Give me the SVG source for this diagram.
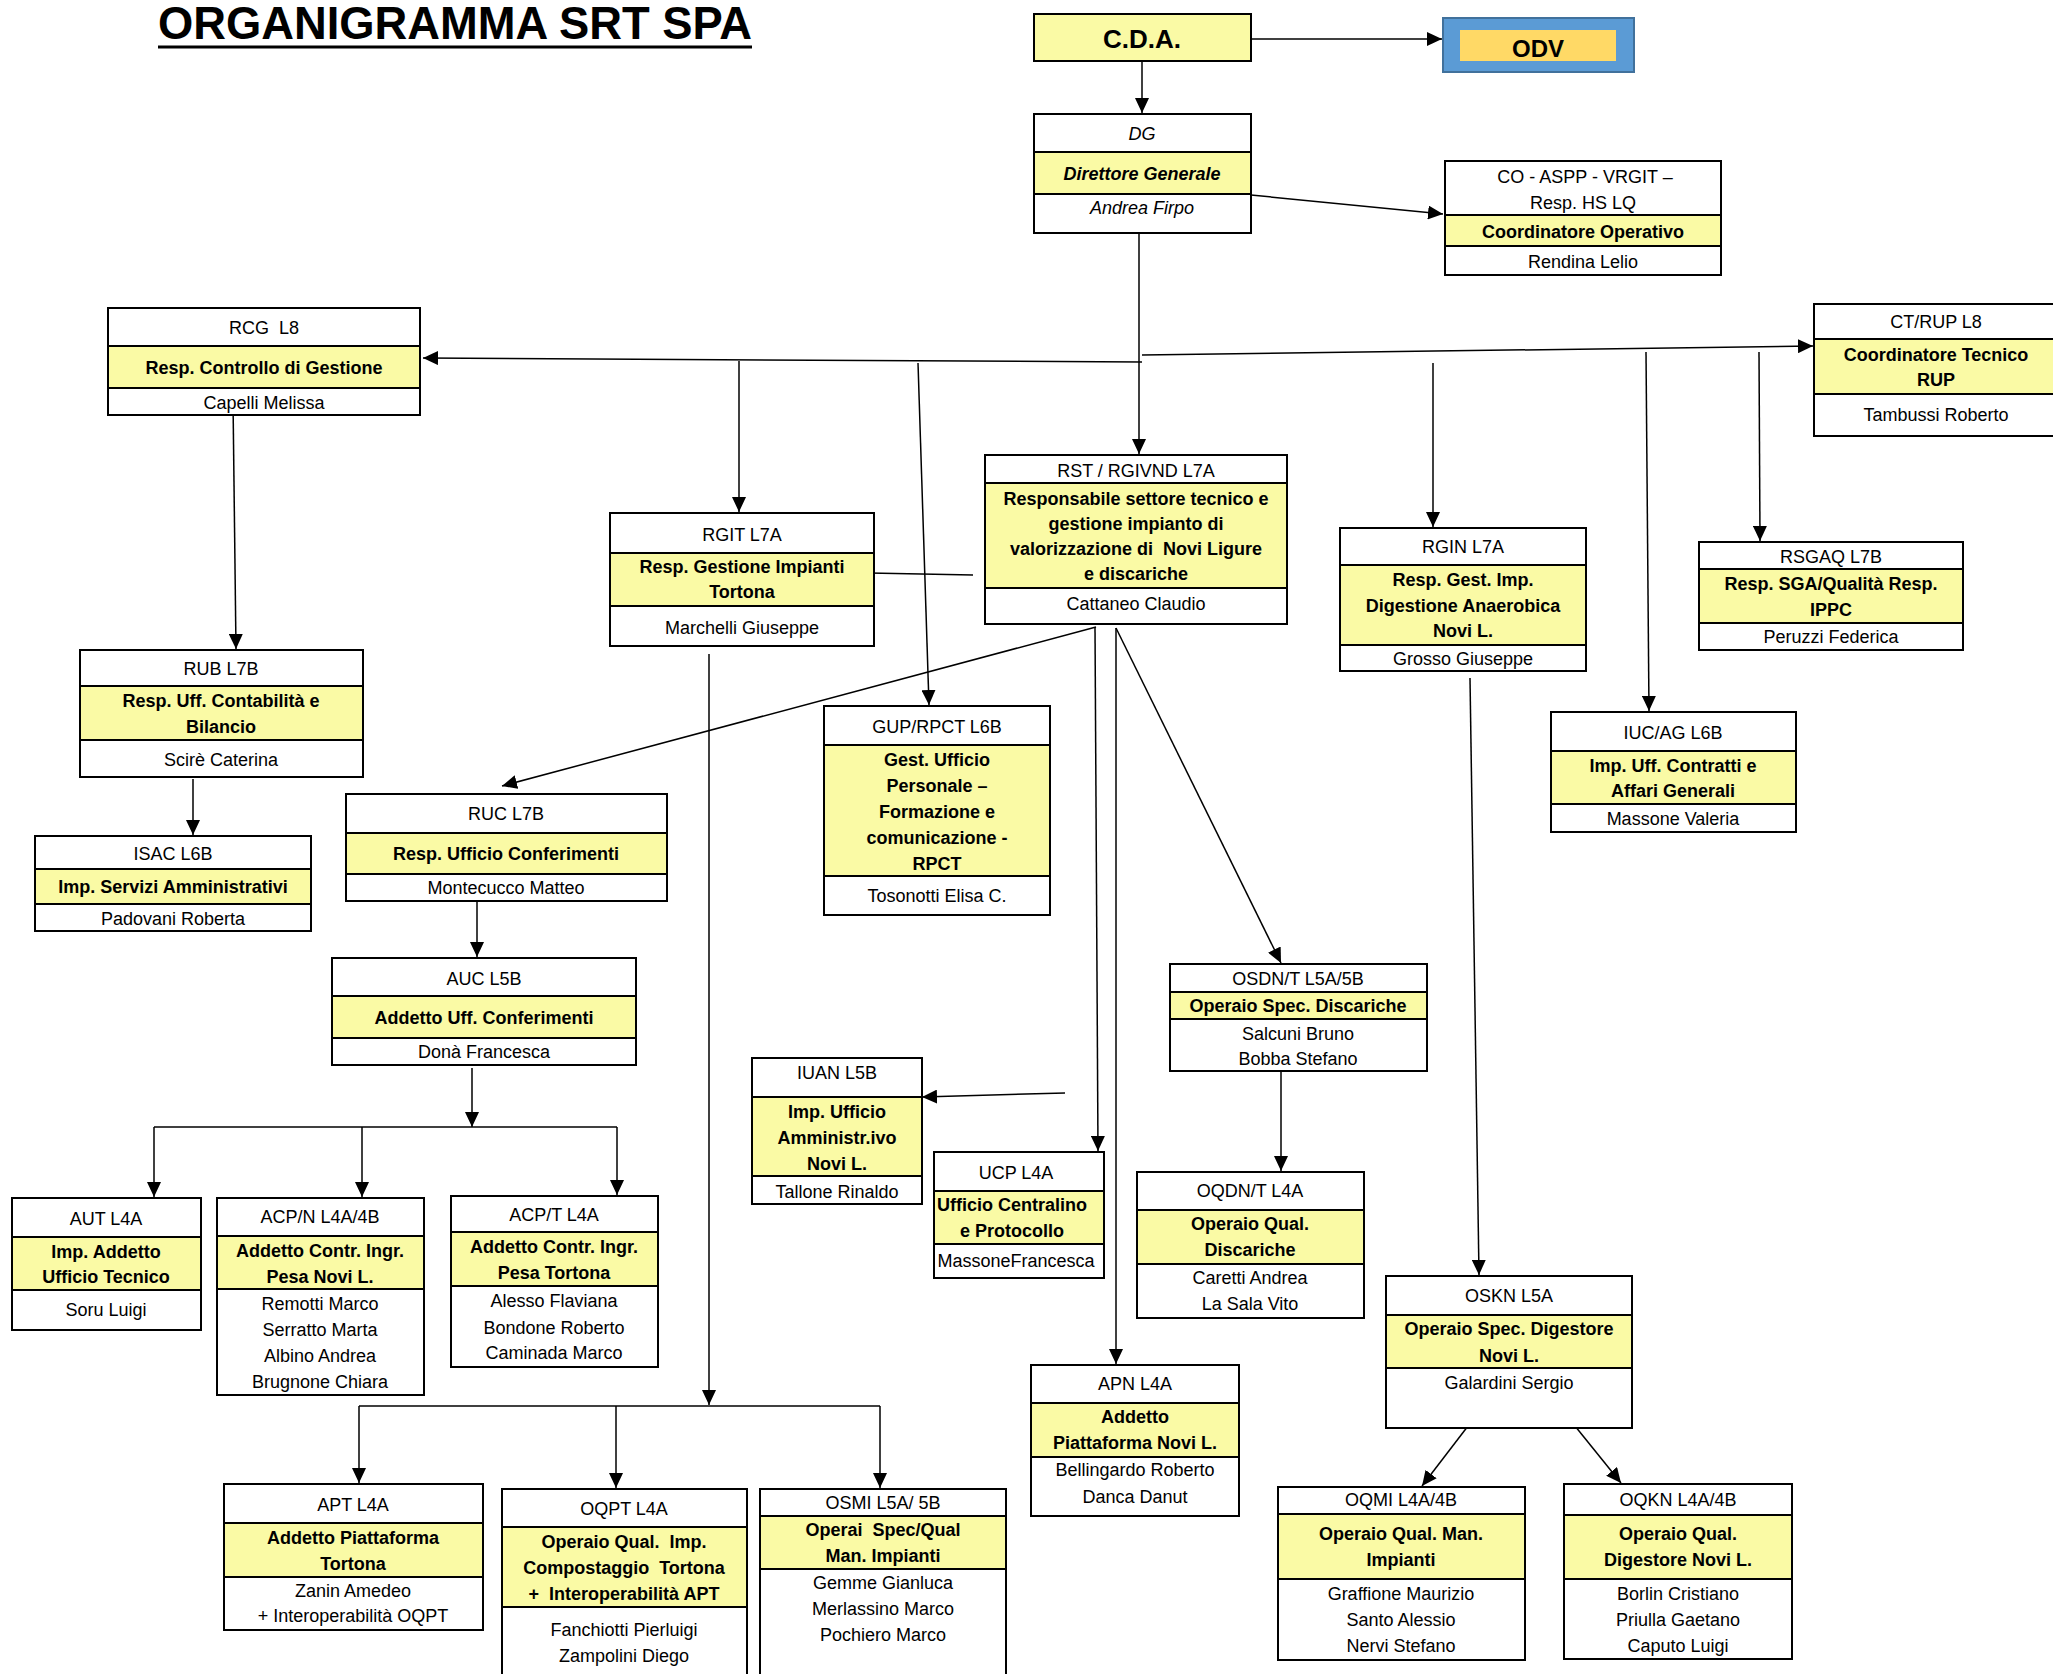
<svg xmlns="http://www.w3.org/2000/svg" width="2053" height="1674" viewBox="0 0 2053 1674">
<style>
text{font-family:"Liberation Sans",Arial,sans-serif;font-size:18px;fill:#000;text-anchor:middle;white-space:pre}
.b{font-weight:bold}
.i{font-style:italic}
.w{fill:#fff;stroke:#000;stroke-width:2}
.y{fill:#FAFAA5;stroke:#000;stroke-width:2}
.c{stroke:#000;stroke-width:1.5;fill:none}
.a{marker-end:url(#ah)}
.ttl{font-size:46px;font-weight:bold;text-anchor:start}
.big{font-size:26px;font-weight:bold}
.odv{font-size:24px;font-weight:bold}
</style>
<defs>
<marker id="ah" markerWidth="15" markerHeight="14" refX="15" refY="7" orient="auto" markerUnits="userSpaceOnUse">
<path d="M0,0 L15,7 L0,14 z" fill="#000"/>
</marker>
</defs>
<rect width="2053" height="1674" fill="#fff"/>

<g id="title">
<text class="ttl" x="158" y="39" textLength="594" lengthAdjust="spacingAndGlyphs">ORGANIGRAMMA SRT SPA</text>
<rect x="158" y="45.5" width="594" height="3" fill="#000"/>
</g>

<g id="connectors">
<path class="c a" d="M1251,39 L1442,39"/>
<path class="c a" d="M1142,61 L1142,113"/>
<path class="c a" d="M1251,195 L1443,214"/>
<path class="c a" d="M1139,231 L1139,454"/>
<path class="c a" d="M1142,362 L423,358"/>
<path class="c a" d="M1142,355 L1813,346"/>
<path class="c a" d="M739,361 L739,512"/>
<path class="c a" d="M918,363 L929,705"/>
<path class="c a" d="M1433,363 L1433,527"/>
<path class="c a" d="M1646,352 L1649,711"/>
<path class="c a" d="M1759,352 L1760,541"/>
<path class="c a" d="M233,400 L236,649"/>
<path class="c a" d="M193,779 L193,835"/>
<path class="c a" d="M1096,627 L502,786"/>
<path class="c" d="M869,573 L973,575"/>
<path class="c a" d="M1095,627 L1098,1151"/>
<path class="c a" d="M1116,628 L1116,1364"/>
<path class="c a" d="M1116,628 L1281,963"/>
<path class="c a" d="M1065,1093 L922,1097"/>
<path class="c a" d="M477,901 L477,957"/>
<path class="c a" d="M472,1068 L472,1127"/>
<path class="c" d="M154,1127 L617,1127"/>
<path class="c a" d="M154,1127 L154,1197"/>
<path class="c a" d="M362,1127 L362,1197"/>
<path class="c a" d="M617,1127 L617,1195"/>
<path class="c a" d="M709,654 L709,1405"/>
<path class="c" d="M359,1406 L880,1406"/>
<path class="c a" d="M359,1406 L359,1483"/>
<path class="c a" d="M616,1406 L616,1488"/>
<path class="c a" d="M880,1406 L880,1488"/>
<path class="c a" d="M1281,1072 L1281,1171"/>
<path class="c a" d="M1470,678 L1479,1275"/>
<path class="c a" d="M1468,1426 L1422,1486"/>
<path class="c a" d="M1575,1426 L1621,1483"/>
</g>

<g id="cda">
<rect class="y" x="1034" y="14" width="217" height="47"/>
<text class="big" x="1142" y="48">C.D.A.</text>
</g>

<g id="odv">
<rect x="1443" y="18" width="191" height="54" fill="#5B9BD5" stroke="#41719C" stroke-width="2"/>
<rect x="1460" y="30" width="156" height="31" fill="#FFD966"/>
<text class="odv" x="1538" y="57">ODV</text>
</g>

<g id="dg">
<rect class="w" x="1034" y="114" width="217" height="119"/>
<rect class="y" x="1034" y="152" width="217" height="42"/>
<text class="i" x="1142" y="140">DG</text>
<text class="b i" x="1142" y="180">Direttore Generale</text>
<text class="i" x="1142" y="214">Andrea Firpo</text>
</g>

<g id="co">
<rect class="w" x="1445" y="161" width="276" height="114"/>
<rect class="y" x="1445" y="215" width="276" height="31"/>
<text x="1585" y="183">CO - ASPP - VRGIT –</text>
<text x="1583" y="209">Resp. HS LQ</text>
<text class="b" x="1583" y="238">Coordinatore Operativo</text>
<text x="1583" y="268">Rendina Lelio</text>
</g>

<g id="rcg">
<rect class="w" x="108" y="308" width="312" height="107"/>
<rect class="y" x="108" y="346" width="312" height="42"/>
<text x="264" y="334">RCG  L8</text>
<text class="b" x="264" y="374">Resp. Controllo di Gestione</text>
<text x="264" y="409">Capelli Melissa</text>
</g>

<g id="ctrup">
<rect class="w" x="1814" y="304" width="244" height="132"/>
<rect class="y" x="1814" y="339" width="244" height="55"/>
<text x="1936" y="328">CT/RUP L8</text>
<text class="b" x="1936" y="361">Coordinatore Tecnico</text>
<text class="b" x="1936" y="386">RUP</text>
<text x="1936" y="421">Tambussi Roberto</text>
</g>

<g id="rst">
<rect class="w" x="985" y="455" width="302" height="169"/>
<rect class="y" x="985" y="483" width="302" height="105"/>
<text x="1136" y="477">RST / RGIVND L7A</text>
<text class="b" x="1136" y="505">Responsabile settore tecnico e</text>
<text class="b" x="1136" y="530">gestione impianto di</text>
<text class="b" x="1136" y="555">valorizzazione di  Novi Ligure</text>
<text class="b" x="1136" y="580">e discariche</text>
<text x="1136" y="610">Cattaneo Claudio</text>
</g>

<g id="rgit">
<rect class="w" x="610" y="513" width="264" height="133"/>
<rect class="y" x="610" y="553" width="264" height="53"/>
<text x="742" y="541">RGIT L7A</text>
<text class="b" x="742" y="573">Resp. Gestione Impianti</text>
<text class="b" x="742" y="598">Tortona</text>
<text x="742" y="634">Marchelli Giuseppe</text>
</g>

<g id="rgin">
<rect class="w" x="1340" y="528" width="246" height="143"/>
<rect class="y" x="1340" y="565" width="246" height="80"/>
<text x="1463" y="553">RGIN L7A</text>
<text class="b" x="1463" y="586">Resp. Gest. Imp.</text>
<text class="b" x="1463" y="612">Digestione Anaerobica</text>
<text class="b" x="1463" y="637">Novi L.</text>
<text x="1463" y="665">Grosso Giuseppe</text>
</g>

<g id="rsgaq">
<rect class="w" x="1699" y="542" width="264" height="108"/>
<rect class="y" x="1699" y="569" width="264" height="54"/>
<text x="1831" y="563">RSGAQ L7B</text>
<text class="b" x="1831" y="590">Resp. SGA/Qualità Resp.</text>
<text class="b" x="1831" y="616">IPPC</text>
<text x="1831" y="643">Peruzzi Federica</text>
</g>

<g id="rub">
<rect class="w" x="80" y="650" width="283" height="127"/>
<rect class="y" x="80" y="686" width="283" height="54"/>
<text x="221" y="675">RUB L7B</text>
<text class="b" x="221" y="707">Resp. Uff. Contabilità e</text>
<text class="b" x="221" y="733">Bilancio</text>
<text x="221" y="766">Scirè Caterina</text>
</g>

<g id="isac">
<rect class="w" x="35" y="836" width="276" height="95"/>
<rect class="y" x="35" y="869" width="276" height="35"/>
<text x="173" y="860">ISAC L6B</text>
<text class="b" x="173" y="893">Imp. Servizi Amministrativi</text>
<text x="173" y="925">Padovani Roberta</text>
</g>

<g id="ruc">
<rect class="w" x="346" y="794" width="321" height="107"/>
<rect class="y" x="346" y="833" width="321" height="41"/>
<text x="506" y="820">RUC L7B</text>
<text class="b" x="506" y="860">Resp. Ufficio Conferimenti</text>
<text x="506" y="894">Montecucco Matteo</text>
</g>

<g id="gup">
<rect class="w" x="824" y="706" width="226" height="209"/>
<rect class="y" x="824" y="745" width="226" height="131"/>
<text x="937" y="733">GUP/RPCT L6B</text>
<text class="b" x="937" y="766">Gest. Ufficio</text>
<text class="b" x="937" y="792">Personale –</text>
<text class="b" x="937" y="818">Formazione e</text>
<text class="b" x="937" y="844">comunicazione -</text>
<text class="b" x="937" y="870">RPCT</text>
<text x="937" y="902">Tosonotti Elisa C.</text>
</g>

<g id="iucag">
<rect class="w" x="1551" y="712" width="245" height="120"/>
<rect class="y" x="1551" y="751" width="245" height="53"/>
<text x="1673" y="739">IUC/AG L6B</text>
<text class="b" x="1673" y="772">Imp. Uff. Contratti e</text>
<text class="b" x="1673" y="797">Affari Generali</text>
<text x="1673" y="825">Massone Valeria</text>
</g>

<g id="auc">
<rect class="w" x="332" y="958" width="304" height="107"/>
<rect class="y" x="332" y="996" width="304" height="42"/>
<text x="484" y="985">AUC L5B</text>
<text class="b" x="484" y="1024">Addetto Uff. Conferimenti</text>
<text x="484" y="1058">Donà Francesca</text>
</g>

<g id="osdn">
<rect class="w" x="1170" y="964" width="257" height="107"/>
<rect class="y" x="1170" y="992" width="257" height="27"/>
<text x="1298" y="985">OSDN/T L5A/5B</text>
<text class="b" x="1298" y="1012">Operaio Spec. Discariche</text>
<text x="1298" y="1040">Salcuni Bruno</text>
<text x="1298" y="1065">Bobba Stefano</text>
</g>

<g id="iuan">
<rect class="w" x="752" y="1058" width="170" height="146"/>
<rect class="y" x="752" y="1097" width="170" height="79"/>
<text x="837" y="1079">IUAN L5B</text>
<text class="b" x="837" y="1118">Imp. Ufficio</text>
<text class="b" x="837" y="1144">Amministr.ivo</text>
<text class="b" x="837" y="1170">Novi L.</text>
<text x="837" y="1198">Tallone Rinaldo</text>
</g>

<g id="ucp">
<rect class="w" x="934" y="1152" width="170" height="126"/>
<rect class="y" x="934" y="1191" width="170" height="53"/>
<text x="1016" y="1179">UCP L4A</text>
<text class="b" x="1012" y="1211">Ufficio Centralino</text>
<text class="b" x="1012" y="1237">e Protocollo</text>
<text x="1016" y="1267">MassoneFrancesca</text>
</g>

<g id="oqdn">
<rect class="w" x="1137" y="1172" width="227" height="146"/>
<rect class="y" x="1137" y="1210" width="227" height="54"/>
<text x="1250" y="1197">OQDN/T L4A</text>
<text class="b" x="1250" y="1230">Operaio Qual.</text>
<text class="b" x="1250" y="1256">Discariche</text>
<text x="1250" y="1284">Caretti Andrea</text>
<text x="1250" y="1310">La Sala Vito</text>
</g>

<g id="aut">
<rect class="w" x="12" y="1198" width="189" height="132"/>
<rect class="y" x="12" y="1237" width="189" height="53"/>
<text x="106" y="1225">AUT L4A</text>
<text class="b" x="106" y="1258">Imp. Addetto</text>
<text class="b" x="106" y="1283">Ufficio Tecnico</text>
<text x="106" y="1316">Soru Luigi</text>
</g>

<g id="acpn">
<rect class="w" x="217" y="1198" width="207" height="197"/>
<rect class="y" x="217" y="1236" width="207" height="53"/>
<text x="320" y="1223">ACP/N L4A/4B</text>
<text class="b" x="320" y="1257">Addetto Contr. Ingr.</text>
<text class="b" x="320" y="1283">Pesa Novi L.</text>
<text x="320" y="1310">Remotti Marco</text>
<text x="320" y="1336">Serratto Marta</text>
<text x="320" y="1362">Albino Andrea</text>
<text x="320" y="1388">Brugnone Chiara</text>
</g>

<g id="acpt">
<rect class="w" x="451" y="1196" width="207" height="171"/>
<rect class="y" x="451" y="1232" width="207" height="54"/>
<text x="554" y="1221">ACP/T L4A</text>
<text class="b" x="554" y="1253">Addetto Contr. Ingr.</text>
<text class="b" x="554" y="1279">Pesa Tortona</text>
<text x="554" y="1307">Alesso Flaviana</text>
<text x="554" y="1334">Bondone Roberto</text>
<text x="554" y="1359">Caminada Marco</text>
</g>

<g id="oskn">
<rect class="w" x="1386" y="1276" width="246" height="152"/>
<rect class="y" x="1386" y="1315" width="246" height="53"/>
<text x="1509" y="1302">OSKN L5A</text>
<text class="b" x="1509" y="1335">Operaio Spec. Digestore</text>
<text class="b" x="1509" y="1362">Novi L.</text>
<text x="1509" y="1389">Galardini Sergio</text>
</g>

<g id="apn">
<rect class="w" x="1031" y="1365" width="208" height="151"/>
<rect class="y" x="1031" y="1403" width="208" height="54"/>
<text x="1135" y="1390">APN L4A</text>
<text class="b" x="1135" y="1423">Addetto</text>
<text class="b" x="1135" y="1449">Piattaforma Novi L.</text>
<text x="1135" y="1476">Bellingardo Roberto</text>
<text x="1135" y="1503">Danca Danut</text>
</g>

<g id="apt">
<rect class="w" x="224" y="1484" width="259" height="146"/>
<rect class="y" x="224" y="1523" width="259" height="54"/>
<text x="353" y="1511">APT L4A</text>
<text class="b" x="353" y="1544">Addetto Piattaforma</text>
<text class="b" x="353" y="1570">Tortona</text>
<text x="353" y="1597">Zanin Amedeo</text>
<text x="353" y="1622">+ Interoperabilità OQPT</text>
</g>

<g id="oqpt">
<rect class="w" x="502" y="1489" width="245" height="200"/>
<rect class="y" x="502" y="1527" width="245" height="80"/>
<text x="624" y="1515">OQPT L4A</text>
<text class="b" x="624" y="1548">Operaio Qual.  Imp.</text>
<text class="b" x="624" y="1574">Compostaggio  Tortona</text>
<text class="b" x="624" y="1600">+  Interoperabilità APT</text>
<text x="624" y="1636">Fanchiotti Pierluigi</text>
<text x="624" y="1662">Zampolini Diego</text>
</g>

<g id="osmi">
<rect class="w" x="760" y="1489" width="246" height="200"/>
<rect class="y" x="760" y="1516" width="246" height="53"/>
<text x="883" y="1509">OSMI L5A/ 5B</text>
<text class="b" x="883" y="1536">Operai  Spec/Qual</text>
<text class="b" x="883" y="1562">Man. Impianti</text>
<text x="883" y="1589">Gemme Gianluca</text>
<text x="883" y="1615">Merlassino Marco</text>
<text x="883" y="1641">Pochiero Marco</text>
</g>

<g id="oqmi">
<rect class="w" x="1278" y="1487" width="247" height="173"/>
<rect class="y" x="1278" y="1514" width="247" height="65"/>
<text x="1401" y="1506">OQMI L4A/4B</text>
<text class="b" x="1401" y="1540">Operaio Qual. Man.</text>
<text class="b" x="1401" y="1566">Impianti</text>
<text x="1401" y="1600">Graffione Maurizio</text>
<text x="1401" y="1626">Santo Alessio</text>
<text x="1401" y="1652">Nervi Stefano</text>
</g>

<g id="oqkn">
<rect class="w" x="1564" y="1484" width="228" height="175"/>
<rect class="y" x="1564" y="1515" width="228" height="64"/>
<text x="1678" y="1506">OQKN L4A/4B</text>
<text class="b" x="1678" y="1540">Operaio Qual.</text>
<text class="b" x="1678" y="1566">Digestore Novi L.</text>
<text x="1678" y="1600">Borlin Cristiano</text>
<text x="1678" y="1626">Priulla Gaetano</text>
<text x="1678" y="1652">Caputo Luigi</text>
</g>
</svg>
